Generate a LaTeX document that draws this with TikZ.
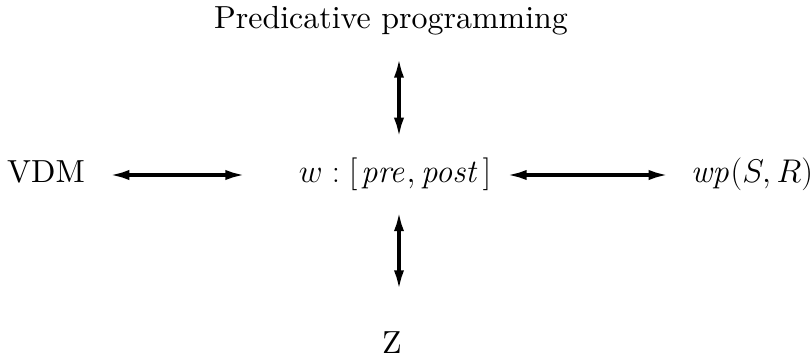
\documentclass[tikz,border=0pt]{standalone}
\usetikzlibrary{arrows.meta, positioning}
\tikzset{
  notation/.style = {anchor=base, inner sep=0pt, font=\fontsize{16.8pt}{20pt}\selectfont},
  wording/.style = {anchor=base, inner sep=0pt, scale=1.68, transform shape},
  link/.style = {line width=1.8pt, {Latex[length=3.6mm,width=1.9mm]}-{Latex[length=3.6mm,width=1.9mm]}}
}

\begin{document}
\begin{tikzpicture}[x=0.0185cm, y=-0.0185cm]
\useasboundingbox (0,0) rectangle (812,360);
% the notations
\node[notation] (spec) at (395,182) {$w:[\mkern2mu\mathit{pre},\mathit{post}\mkern2mu]$};
\node[wording] (pred) at (391,28) {Predicative programming};
\node[wording] (vdm) at (46,182) {VDM};
\node[notation] (wp) at (752,182) {$\mathit{wp}(S,R)$};
\node[wording] (z) at (392,353) {Z};
\coordinate (hub) at (399,175);

% links to the specification statement
\draw[link, shorten <=0.56cm, shorten >=0.70cm] (hub |- pred.base) -- (hub);
\draw[link, shorten <=0.68cm, shorten >=1.17cm] (hub) -- (hub |- z.base);
\draw[link, shorten <=1.18cm, shorten >=2.85cm] (hub -| vdm) -- (hub);
\draw[link, shorten <=2.0cm, shorten >=1.55cm] (hub) -- (hub -| wp);
\end{tikzpicture}
\end{document}
